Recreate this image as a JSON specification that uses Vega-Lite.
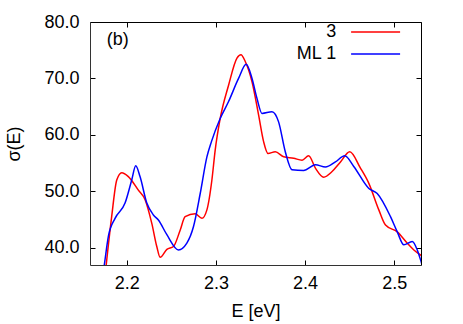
{
  "$schema": "https://vega.github.io/schema/vega-lite/v6.json",
  "width": 331,
  "height": 243,
  "autosize": "none",
  "padding": {"left": 90, "top": 22, "right": 12, "bottom": 59},
  "config": {
    "view": {"stroke": null},
    "font": "Liberation Sans",
    "axis": {"grid": false, "labelFontSize": 18, "titleFontSize": 18, "titleFontWeight": "normal", "labelColor": "#000", "titleColor": "#000", "tickColor": "#000", "domainColor": "#333", "tickSize": -5, "labelFlush": false}
  },
  "datasets": {
    "curves": [
      {"E": 2.1760, "s": 35.5, "series": "3"},
      {"E": 2.1831, "s": 45.5, "series": "3"},
      {"E": 2.1888, "s": 52.0, "series": "3"},
      {"E": 2.1944, "s": 53.3, "series": "3"},
      {"E": 2.2018, "s": 52.6, "series": "3"},
      {"E": 2.2130, "s": 50.2, "series": "3"},
      {"E": 2.2206, "s": 48.5, "series": "3"},
      {"E": 2.2281, "s": 44.3, "series": "3"},
      {"E": 2.2337, "s": 40.2, "series": "3"},
      {"E": 2.2374, "s": 38.3, "series": "3"},
      {"E": 2.2450, "s": 39.7, "series": "3"},
      {"E": 2.2524, "s": 40.2, "series": "3"},
      {"E": 2.2599, "s": 43.1, "series": "3"},
      {"E": 2.2655, "s": 45.5, "series": "3"},
      {"E": 2.2767, "s": 46.0, "series": "3"},
      {"E": 2.2843, "s": 45.2, "series": "3"},
      {"E": 2.2899, "s": 46.7, "series": "3"},
      {"E": 2.2955, "s": 52.0, "series": "3"},
      {"E": 2.2992, "s": 57.3, "series": "3"},
      {"E": 2.3048, "s": 62.9, "series": "3"},
      {"E": 2.3142, "s": 68.8, "series": "3"},
      {"E": 2.3236, "s": 73.6, "series": "3"},
      {"E": 2.3281, "s": 74.2, "series": "3"},
      {"E": 2.3329, "s": 73.0, "series": "3"},
      {"E": 2.3405, "s": 69.4, "series": "3"},
      {"E": 2.3479, "s": 63.5, "series": "3"},
      {"E": 2.3535, "s": 58.8, "series": "3"},
      {"E": 2.3584, "s": 56.7, "series": "3"},
      {"E": 2.3666, "s": 57.0, "series": "3"},
      {"E": 2.3760, "s": 56.1, "series": "3"},
      {"E": 2.3872, "s": 55.85, "series": "3"},
      {"E": 2.3966, "s": 55.5, "series": "3"},
      {"E": 2.4040, "s": 56.3, "series": "3"},
      {"E": 2.4116, "s": 54.1, "series": "3"},
      {"E": 2.4209, "s": 52.5, "series": "3"},
      {"E": 2.4303, "s": 53.5, "series": "3"},
      {"E": 2.4397, "s": 55.2, "series": "3"},
      {"E": 2.4501, "s": 57.0, "series": "3"},
      {"E": 2.4621, "s": 54.1, "series": "3"},
      {"E": 2.4715, "s": 51.4, "series": "3"},
      {"E": 2.4827, "s": 46.7, "series": "3"},
      {"E": 2.4902, "s": 44.0, "series": "3"},
      {"E": 2.5034, "s": 42.8, "series": "3"},
      {"E": 2.5146, "s": 40.8, "series": "3"},
      {"E": 2.5220, "s": 39.6, "series": "3"},
      {"E": 2.5296, "s": 38.7, "series": "3"},
      {"E": 2.5350, "s": 38.2, "series": "3"},
      {"E": 2.1735, "s": 35.5, "series": "ML 1"},
      {"E": 2.1748, "s": 36.9, "series": "ML 1"},
      {"E": 2.1794, "s": 42.0, "series": "ML 1"},
      {"E": 2.1869, "s": 45.2, "series": "ML 1"},
      {"E": 2.1981, "s": 47.9, "series": "ML 1"},
      {"E": 2.2056, "s": 52.0, "series": "ML 1"},
      {"E": 2.2101, "s": 54.5, "series": "ML 1"},
      {"E": 2.2149, "s": 52.6, "series": "ML 1"},
      {"E": 2.2225, "s": 47.9, "series": "ML 1"},
      {"E": 2.2299, "s": 45.8, "series": "ML 1"},
      {"E": 2.2355, "s": 44.9, "series": "ML 1"},
      {"E": 2.2450, "s": 42.3, "series": "ML 1"},
      {"E": 2.2580, "s": 39.6, "series": "ML 1"},
      {"E": 2.2674, "s": 40.8, "series": "ML 1"},
      {"E": 2.2748, "s": 43.7, "series": "ML 1"},
      {"E": 2.2824, "s": 49.6, "series": "ML 1"},
      {"E": 2.2899, "s": 56.1, "series": "ML 1"},
      {"E": 2.2950, "s": 58.8, "series": "ML 1"},
      {"E": 2.3048, "s": 62.9, "series": "ML 1"},
      {"E": 2.3142, "s": 65.9, "series": "ML 1"},
      {"E": 2.3254, "s": 70.0, "series": "ML 1"},
      {"E": 2.3340, "s": 72.5, "series": "ML 1"},
      {"E": 2.3405, "s": 70.0, "series": "ML 1"},
      {"E": 2.3460, "s": 66.5, "series": "ML 1"},
      {"E": 2.3517, "s": 63.8, "series": "ML 1"},
      {"E": 2.3629, "s": 64.1, "series": "ML 1"},
      {"E": 2.3703, "s": 62.3, "series": "ML 1"},
      {"E": 2.3778, "s": 57.0, "series": "ML 1"},
      {"E": 2.3854, "s": 53.8, "series": "ML 1"},
      {"E": 2.3984, "s": 53.7, "series": "ML 1"},
      {"E": 2.4116, "s": 54.7, "series": "ML 1"},
      {"E": 2.4228, "s": 54.3, "series": "ML 1"},
      {"E": 2.4340, "s": 55.2, "series": "ML 1"},
      {"E": 2.4445, "s": 56.3, "series": "ML 1"},
      {"E": 2.4546, "s": 54.4, "series": "ML 1"},
      {"E": 2.4715, "s": 50.5, "series": "ML 1"},
      {"E": 2.4809, "s": 49.6, "series": "ML 1"},
      {"E": 2.4958, "s": 45.5, "series": "ML 1"},
      {"E": 2.5034, "s": 42.8, "series": "ML 1"},
      {"E": 2.5108, "s": 40.5, "series": "ML 1"},
      {"E": 2.5202, "s": 41.1, "series": "ML 1"},
      {"E": 2.5258, "s": 39.6, "series": "ML 1"},
      {"E": 2.5296, "s": 37.8, "series": "ML 1"},
      {"E": 2.5320, "s": 36.5, "series": "ML 1"}
    ],
    "note": [{"E": 2.19, "s": 76.8, "label": "(b)"}]
  },
  "layer": [
    {
      "layer": [
        {
          "data": {"name": "curves"},
          "mark": {"type": "line", "interpolate": "monotone", "strokeWidth": 1.5, "clip": true},
          "encoding": {
            "x": {"field": "E", "type": "quantitative", "scale": {"domain": [2.1588, 2.530], "nice": false, "zero": false},
                  "axis": {"title": "E [eV]", "values": [2.2, 2.3, 2.4, 2.5], "format": ".1f", "labelPadding": 14, "titlePadding": 10}},
            "y": {"field": "s", "type": "quantitative", "scale": {"domain": [36.93, 80], "nice": false, "zero": false},
                  "axis": {"title": "σ(E)", "values": [40, 50, 60, 70, 80], "format": ".1f", "labelPadding": 16, "titlePadding": 20}},
            "color": {"field": "series", "type": "nominal",
                      "scale": {"domain": ["3", "ML 1"], "range": ["#ff0000", "#0000ff"]},
                      "legend": {"title": null, "orient": "none", "legendX": 276.6, "legendY": 1, "direction": "vertical",
                                 "symbolType": "M-5,0H5", "symbolSize": 96, "symbolStrokeWidth": 1.5,
                                 "labelAlign": "right", "labelOffset": -48.4, "labelFontSize": 18, "labelColor": "#000",
                                 "padding": 0, "rowPadding": 4}}
          }
        },
        {
          "data": {"name": "note"},
          "mark": {"type": "text", "fontSize": 18, "align": "center", "baseline": "middle", "color": "#000"},
          "encoding": {
            "x": {"field": "E", "type": "quantitative"},
            "y": {"field": "s", "type": "quantitative"},
            "text": {"field": "label"}
          }
        }
      ]
    },
    {
      "data": {"name": "note"},
      "mark": {"type": "point", "opacity": 0},
      "encoding": {
        "x": {"field": "E", "type": "quantitative", "scale": {"domain": [2.1588, 2.530], "nice": false, "zero": false},
              "axis": {"orient": "top", "title": null, "labels": false, "values": [2.2, 2.3, 2.4, 2.5], "domainColor": "#000"}},
        "y": {"field": "s", "type": "quantitative", "scale": {"domain": [36.93, 80], "nice": false, "zero": false},
              "axis": {"orient": "right", "title": null, "labels": false, "values": [40, 50, 60, 70, 80], "domainColor": "#000"}}
      }
    }
  ],
  "resolve": {"scale": {"x": "independent", "y": "independent"}}
}
